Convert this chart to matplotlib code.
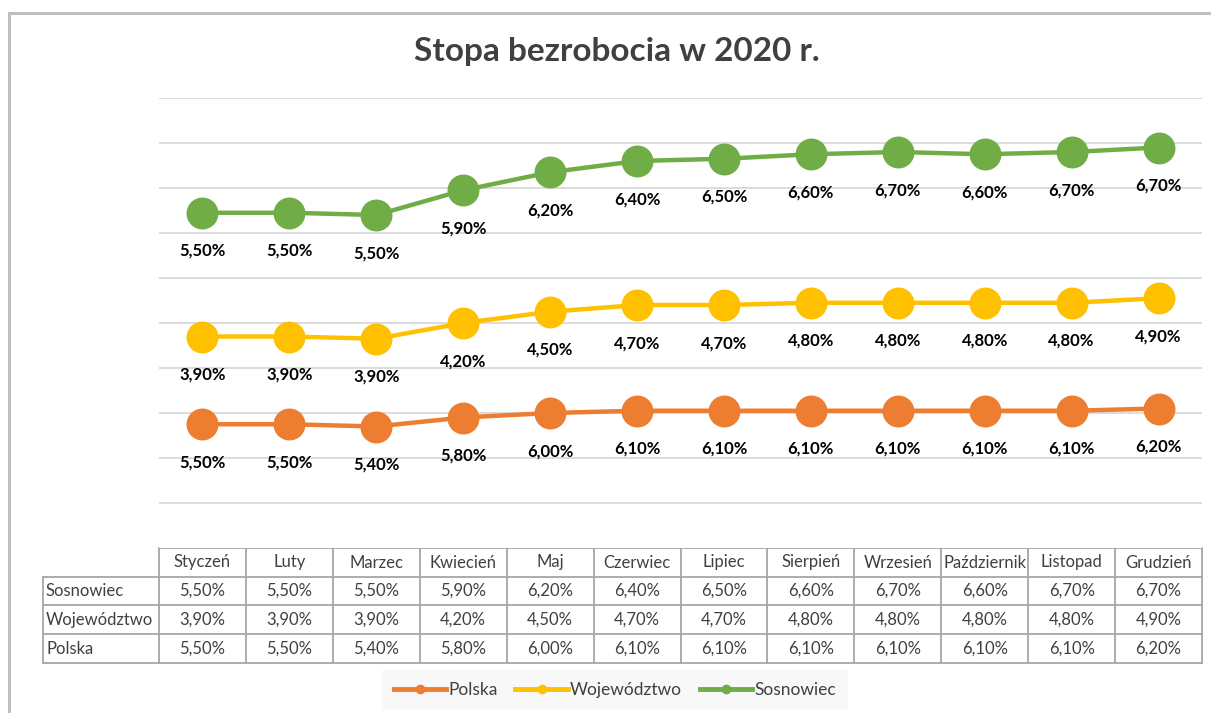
import numpy as np
import matplotlib
matplotlib.use("Agg")
import matplotlib.pyplot as plt
from matplotlib.lines import Line2D

months = ["Styczeń", "Luty", "Marzec", "Kwiecień", "Maj", "Czerwiec", "Lipiec",
          "Sierpień", "Wrzesień", "Październik", "Listopad", "Grudzień"]
sosnowiec = [5.5, 5.5, 5.5, 5.9, 6.2, 6.4, 6.5, 6.6, 6.7, 6.6, 6.7, 6.7]
wojewodztwo = [3.9, 3.9, 3.9, 4.2, 4.5, 4.7, 4.7, 4.8, 4.8, 4.8, 4.8, 4.9]
polska = [5.5, 5.5, 5.4, 5.8, 6.0, 6.1, 6.1, 6.1, 6.1, 6.1, 6.1, 6.2]
title = "Stopa bezrobocia w 2020 r."

c_pol = "#ED7D31"
c_woj = "#FFC000"
c_sos = "#70AD47"

FONT = ["Lato", "DejaVu Sans"]
plt.rcParams["font.family"] = FONT

W, H = 1211, 713
fig = plt.figure(figsize=(W / 100, H / 100), dpi=100)

def fx(px):
    return px / W

def fy(py):
    return 1 - py / H

# main axes: x 159..1202, y 548 (0) .. 98 (20)
x0, x1, ytop, ybot = 159, 1202, 98, 548
ax = fig.add_axes([fx(x0), fy(ybot), fx(x1) - fx(x0), (ybot - ytop) / H])
ax.set_xlim(-0.5, len(months) - 0.5)
ax.set_ylim(0, 20)
for s in ax.spines.values():
    s.set_visible(False)
ax.set_xticks([])
ax.set_yticks(np.arange(2, 21, 2))
ax.tick_params(left=False, labelleft=False)
ax.grid(axis="y", color="#D9D9D9", linewidth=1.3)
ax.set_axisbelow(True)

x = np.arange(len(months))
stack1 = np.array(polska)
stack2 = stack1 + np.array(wojewodztwo)
stack3 = stack2 + np.array(sosnowiec)

series = [(stack1, polska, c_pol), (stack2, wojewodztwo, c_woj), (stack3, sosnowiec, c_sos)]
for ys, vals, col in series:
    ax.plot(x, ys, color=col, linewidth=3.2, marker="o", markersize=23,
            markeredgewidth=0, zorder=3, solid_capstyle="round")
    for xi, yi, v in zip(x, ys, vals):
        ax.annotate(f"{v:.2f}%".replace(".", ","), (xi, yi), xytext=(0, -27.5),
                    textcoords="offset points", ha="center", va="center",
                    fontsize=12, fontweight="bold", color="#000000", zorder=4)

# overlay axes in pixel coords
ov = fig.add_axes([0, 0, 1, 1], zorder=-1)
ov.set_xlim(0, W)
ov.set_ylim(H, 0)
ov.axis("off")

# outer frame (left and top)
ov.plot([9, 9, W], [H, 13, 13], color="#BFBFBF", linewidth=2.2, solid_joinstyle="miter")

fig.text(fx(617), fy(52), title, ha="center", va="center", fontsize=24,
         fontweight="bold", color="#404040")

# table
tcol = "#A6A6A6"
lbl_left = 43
rows_y = [548, 577, 605, 634, 663]
colw = (x1 - x0) / len(months)
col_x = [x0 + i * colw for i in range(len(months) + 1)]
ov.plot([x0, x1], [rows_y[0], rows_y[0]], color=tcol, lw=1.3)
for yy in rows_y[1:]:
    ov.plot([lbl_left, x1], [yy, yy], color=tcol, lw=1.3)
for xx in col_x:
    ov.plot([xx, xx], [rows_y[0], rows_y[-1]], color=tcol, lw=1.3)
ov.plot([lbl_left, lbl_left], [rows_y[1], rows_y[-1]], color=tcol, lw=1.3)

for i, m in enumerate(months):
    cx = x0 + (i + 0.5) * colw
    ov.text(cx, (rows_y[0] + rows_y[1]) / 2, m, ha="center", va="center",
            fontsize=12, color="#404040")
table_rows = [("Sosnowiec", sosnowiec), ("Województwo", wojewodztwo), ("Polska", polska)]
for r, (name, vals) in enumerate(table_rows):
    cy = (rows_y[r + 1] + rows_y[r + 2]) / 2
    ov.text(lbl_left + 3, cy, name, ha="left", va="center", fontsize=12, color="#404040")
    for i, v in enumerate(vals):
        cx = x0 + (i + 0.5) * colw
        ov.text(cx, cy, f"{v:.2f}%".replace(".", ","), ha="center", va="center",
                fontsize=12, color="#404040")

# legend
handles = [Line2D([], [], color=c, lw=3.5, marker="o", markersize=6) for c in (c_pol, c_woj, c_sos)]
leg = fig.legend(handles, ["Polska", "Województwo", "Sosnowiec"], loc="center",
                 bbox_to_anchor=(fx(615), fy(690)), ncol=3, frameon=True,
                 fontsize=12.5, handlelength=3.0, handletextpad=0.15,
                 columnspacing=1.0, borderpad=0.7, borderaxespad=0,
                 fancybox=False)
leg.get_frame().set_facecolor("#F7F7F7")
leg.get_frame().set_edgecolor("none")
for t in leg.get_texts():
    t.set_color("#404040")

fig.savefig("out.png", dpi=100)
